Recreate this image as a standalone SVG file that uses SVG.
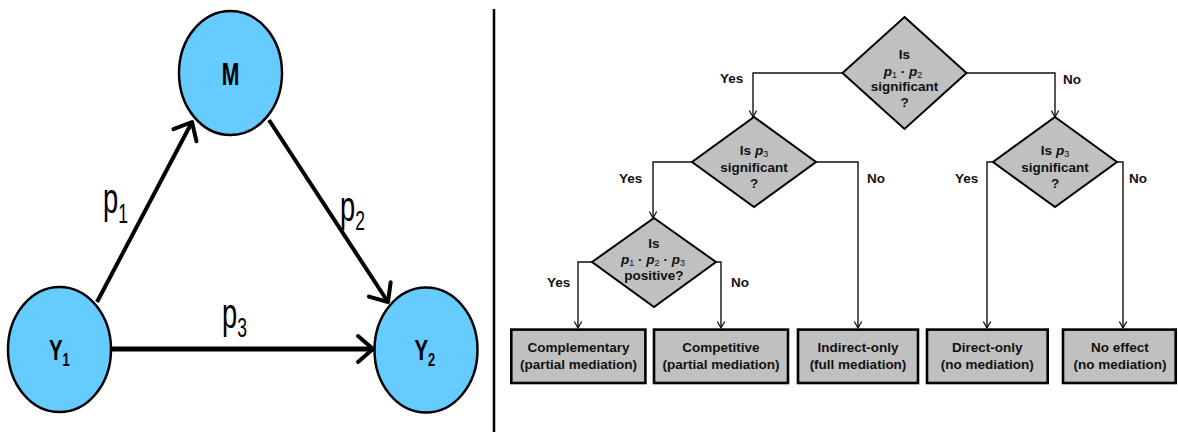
<svg xmlns="http://www.w3.org/2000/svg" width="1178" height="432" viewBox="0 0 1178 432">
<style>
.circ{fill:#66ccff;stroke:#000;stroke-width:2.5}
.big{stroke:#000;fill:none}
.lbl{font-family:"Liberation Sans",Arial,sans-serif;font-weight:bold;fill:#000}
.pl{font-family:"Liberation Sans",Arial,sans-serif;fill:#000}
.dia{fill:#c0c0c0;stroke:#000;stroke-width:2}
.box{fill:#c0c0c0;stroke:#000;stroke-width:2.6}
.t{font-family:"Liberation Sans",Arial,sans-serif;font-weight:bold;font-size:13.5px;fill:#111;text-anchor:middle}
.yn{font-family:"Liberation Sans",Arial,sans-serif;font-weight:bold;font-size:13.5px;fill:#111}
.c{fill:none;stroke:#111;stroke-width:1.4}
</style>
<defs>
<marker id="bigArrow" viewBox="0 0 24 32" refX="21" refY="16" markerWidth="24" markerHeight="32" markerUnits="userSpaceOnUse" orient="auto">
<path d="M6,3 L21,16 L6,29" fill="none" stroke="#000" stroke-width="4" stroke-linecap="round" stroke-linejoin="round"/>
</marker>
<marker id="sm" viewBox="0 0 10 10" refX="8" refY="5" markerWidth="10" markerHeight="10" markerUnits="userSpaceOnUse" orient="auto">
<path d="M1.5,1.3 L8,5 L1.5,8.7" fill="none" stroke="#111" stroke-width="1.3"/>
</marker>
</defs>
<rect width="1178" height="432" fill="#fff"/>

<g id="connectors">
<line class="big" x1="97" y1="302" x2="192" y2="122" stroke-width="4" marker-end="url(#bigArrow)"/>
<line class="big" x1="269" y1="120" x2="388" y2="302" stroke-width="4" marker-end="url(#bigArrow)"/>
<line class="big" x1="112" y1="349" x2="373" y2="349" stroke-width="5" marker-end="url(#bigArrow)"/>
<polyline class="c" points="843,73 753,73 753,117" marker-end="url(#sm)"/>
<polyline class="c" points="967,73 1055,73 1055,117" marker-end="url(#sm)"/>
<polyline class="c" points="692,162 653,162 653,218" marker-end="url(#sm)"/>
<polyline class="c" points="816,162 858,162 858,328" marker-end="url(#sm)"/>
<polyline class="c" points="993,162 987,162 987,328" marker-end="url(#sm)"/>
<polyline class="c" points="1117,162 1123,162 1123,328" marker-end="url(#sm)"/>
<polyline class="c" points="592,262 578,262 578,328" marker-end="url(#sm)"/>
<polyline class="c" points="716,262 721,262 721,328" marker-end="url(#sm)"/>
</g>

<g id="edge-labels">
<text class="pl" font-size="42" transform="translate(103,213) scale(0.65,1)">p<tspan font-size="27" dy="10">1</tspan></text>
<text class="pl" font-size="42" transform="translate(340,221) scale(0.65,1)">p<tspan font-size="27" dy="9">2</tspan></text>
<text class="pl" font-size="42" transform="translate(222,328) scale(0.65,1)">p<tspan font-size="27" dy="9">3</tspan></text>
<text class="yn" x="720" y="83">Yes</text>
<text class="yn" x="1063" y="84">No</text>
<text class="yn" x="619" y="183">Yes</text>
<text class="yn" x="867" y="183">No</text>
<text class="yn" x="955" y="183">Yes</text>
<text class="yn" x="1129" y="183">No</text>
<text class="yn" x="547" y="287">Yes</text>
<text class="yn" x="731" y="287">No</text>
</g>

<g id="node-M">
<ellipse class="circ" cx="230.5" cy="73" rx="51.5" ry="62"/>
<text class="lbl" font-size="32" transform="translate(230.5,84.5) scale(0.66,1)" text-anchor="middle">M</text>
</g>
<g id="node-Y1">
<ellipse class="circ" cx="59.5" cy="349.5" rx="51.5" ry="62.5"/>
<text class="lbl" font-size="30" transform="translate(49,360) scale(0.68,1)">Y<tspan font-size="19" dy="6">1</tspan></text>
</g>
<g id="node-Y2">
<ellipse class="circ" cx="426" cy="350" rx="51.5" ry="62.5"/>
<text class="lbl" font-size="30" transform="translate(414.5,360) scale(0.68,1)">Y<tspan font-size="19" dy="6">2</tspan></text>
</g>

<line id="divider" x1="494" y1="9" x2="494" y2="432" stroke="#000" stroke-width="2.5"/>

<g id="d1">
<polygon class="dia" points="904.5,17 966.5,73 904.5,129 842.5,73"/>
<text class="t" x="904.5" y="59">Is</text>
<text class="t" x="903" y="75.5"><tspan font-style="italic">p</tspan><tspan font-size="9" font-weight="normal" dy="2">1</tspan><tspan dy="-2"> · </tspan><tspan font-style="italic">p</tspan><tspan font-size="9" font-weight="normal" dy="2">2</tspan></text>
<text class="t" x="904.5" y="90.5">significant</text>
<text class="t" x="904.5" y="106.5">?</text>
</g>
<g id="d2">
<polygon class="dia" points="754,117 816,162 754,207 692,162"/>
<text class="t" x="754" y="155"><tspan>Is </tspan><tspan font-style="italic">p</tspan><tspan font-size="9" font-weight="normal" dy="2">3</tspan></text>
<text class="t" x="754" y="172">significant</text>
<text class="t" x="754" y="188">?</text>
</g>
<g id="d3">
<polygon class="dia" points="1055,117 1117,162 1055,207 993,162"/>
<text class="t" x="1055" y="155"><tspan>Is </tspan><tspan font-style="italic">p</tspan><tspan font-size="9" font-weight="normal" dy="2">3</tspan></text>
<text class="t" x="1055" y="172">significant</text>
<text class="t" x="1055" y="188">?</text>
</g>
<g id="d4">
<polygon class="dia" points="654,218 716,262 654,307 592,262"/>
<text class="t" x="654" y="248">Is</text>
<text class="t" x="653" y="263.5"><tspan font-style="italic">p</tspan><tspan font-size="9" font-weight="normal" dy="2">1</tspan><tspan dy="-2"> · </tspan><tspan font-style="italic">p</tspan><tspan font-size="9" font-weight="normal" dy="2">2</tspan><tspan dy="-2"> · </tspan><tspan font-style="italic">p</tspan><tspan font-size="9" font-weight="normal" dy="2">3</tspan></text>
<text class="t" x="654" y="279.5">positive?</text>
</g>

<g id="b1">
<rect class="box" x="511.3" y="329.6" width="134.1" height="53.4"/>
<text class="t" x="578.5" y="352">Complementary</text>
<text class="t" x="578.5" y="369">(partial mediation)</text>
</g>
<g id="b2">
<rect class="box" x="654" y="329.6" width="134" height="53.4"/>
<text class="t" x="721" y="352">Competitive</text>
<text class="t" x="721" y="369">(partial mediation)</text>
</g>
<g id="b3">
<rect class="box" x="798" y="329.6" width="120" height="53.4"/>
<text class="t" x="858" y="352">Indirect-only</text>
<text class="t" x="858" y="369">(full mediation)</text>
</g>
<g id="b4">
<rect class="box" x="927" y="329.6" width="120.7" height="53.4"/>
<text class="t" x="987.3" y="352">Direct-only</text>
<text class="t" x="987.3" y="369">(no mediation)</text>
</g>
<g id="b5">
<rect class="box" x="1063" y="329.6" width="112.7" height="53.4"/>
<text class="t" x="1120" y="352">No effect</text>
<text class="t" x="1120" y="369">(no mediation)</text>
</g>
</svg>
